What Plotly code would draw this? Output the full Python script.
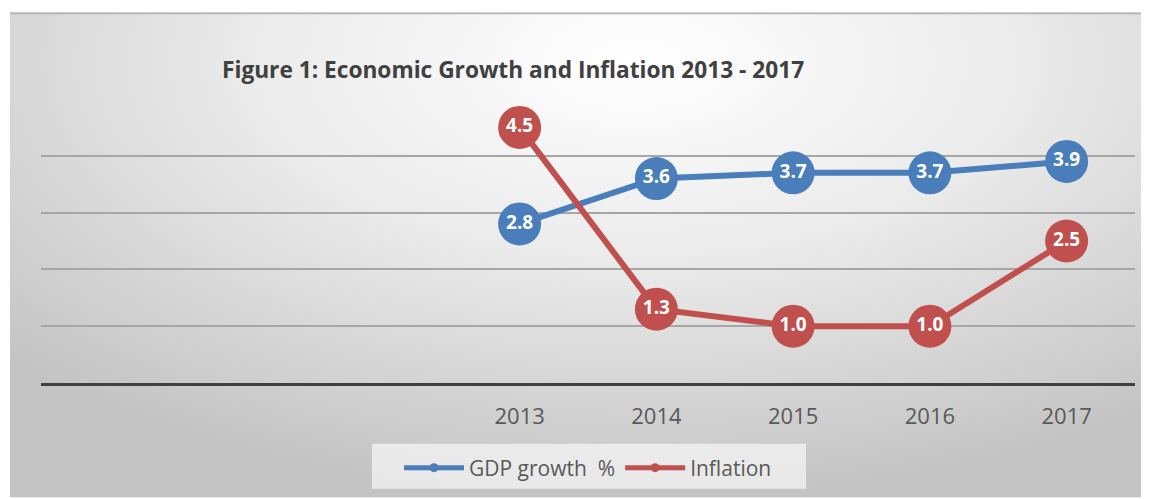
import base64
import plotly.graph_objects as go

# ---- data ----
placeholders = [" ", "  ", "   "]
years = ["2013", "2014", "2015", "2016", "2017"]
gdp_growth = [2.8, 3.6, 3.7, 3.7, 3.9]
inflation = [4.5, 1.3, 1.0, 1.0, 2.5]
series_names = ["GDP growth  %", "Inflation"]
title_text = "Figure 1: Economic Growth and Inflation 2013 - 2017"

BLUE = "#4a7ebb"
RED = "#c0504d"
FONT = "Open Sans"

OFF = 8  # page body margin
W, H = 1149 - OFF, 499 - OFF
ML, MT = 41 - OFF, 99 - OFF
MR = W - (1135 - OFF)
MB = H - (384 - OFF)
pw = W - ML - MR
ph = H - MT - MB


def px_x(sx):
    return (sx - OFF - ML) / pw


def px_y(sy):
    return (H - MB - (sy - OFF)) / ph


bx, by = 10 - OFF, 12 - OFF
bw, bh = W - bx, H - by

svg = f"""<svg xmlns='http://www.w3.org/2000/svg' width='{bw}' height='{bh}' viewBox='0 0 {bw} {bh}' preserveAspectRatio='none'>
<defs><radialGradient id='g' cx='0.55' cy='0.1' r='0.75' gradientTransform='translate(0.55 0.1) scale(1 1.2) translate(-0.55 -0.1)'>
<stop offset='0' stop-color='#ffffff'/><stop offset='0.45' stop-color='#ebebeb'/><stop offset='1' stop-color='#c4c4c4'/></radialGradient></defs>
<rect x='0' y='0' width='{bw}' height='{bh}' fill='url(#g)'/>
<line x1='0' y1='1' x2='{bw}' y2='1' stroke='#b4b4b4' stroke-width='2'/>
</svg>"""
src = "data:image/svg+xml;base64," + base64.b64encode(svg.encode()).decode()

fig = go.Figure()
for name, vals, col in [(series_names[0], gdp_growth, BLUE), (series_names[1], inflation, RED)]:
    fig.add_trace(go.Scatter(
        x=years, y=vals, mode="lines+markers+text", name=name,
        text=[f"{v:.1f}" for v in vals], textposition="middle center",
        textfont=dict(family=FONT, size=19, color="white", weight="bold"),
        line=dict(color=col, width=6),
        marker=dict(color=col, size=43, line=dict(width=0)),
        showlegend=False, cliponaxis=False,
    ))
    fig.add_trace(go.Scatter(
        x=[None], y=[None], mode="lines+markers", name=name,
        line=dict(color=col, width=5), marker=dict(color=col, size=9),
        showlegend=True,
    ))

fig.add_layout_image(dict(
    source=src, xref="paper", yref="paper",
    x=(bx - ML) / pw, y=(H - MB - by) / ph,
    sizex=bw / pw, sizey=bh / ph,
    sizing="stretch", xanchor="left", yanchor="top", layer="below",
))

# legend box
fig.add_shape(type="rect", xref="paper", yref="paper",
              x0=px_x(372), x1=px_x(806), y0=px_y(490), y1=px_y(445),
              fillcolor="rgba(244,244,244,0.75)", line=dict(width=0), layer="below")

fig.update_layout(
    width=W, height=H,
    margin=dict(l=ML, r=MR, t=MT, b=MB),
    paper_bgcolor="white", plot_bgcolor="rgba(0,0,0,0)",
    title=dict(text=title_text, xref="container", yref="container",
               x=(222 - OFF) / W, xanchor="left", y=1 - (70 - OFF) / H, yanchor="middle",
               font=dict(family=FONT, size=22.7, color="#404040", weight="bold")),
    xaxis=dict(type="category", categoryorder="array",
               categoryarray=placeholders + years, range=[-0.5, 7.5],
               showgrid=False, showline=True, linecolor="#404040", linewidth=3,
               ticks="", ticklabelstandoff=12,
               tickfont=dict(family=FONT, size=22, color="#595959")),
    yaxis=dict(range=[0, 5], tickvals=[1, 2, 3, 4], showticklabels=False,
               showgrid=True, gridcolor="#a6a6a6", gridwidth=2,
               zeroline=False, showline=False),
    legend=dict(orientation="h", x=px_x(588), xanchor="center",
                y=px_y(468),
                yanchor="middle", bgcolor="rgba(0,0,0,0)",
                font=dict(family=FONT, size=21, color="#595959"),
                itemwidth=60),
    font=dict(family=FONT),
)

fig.write_html("out.html")
